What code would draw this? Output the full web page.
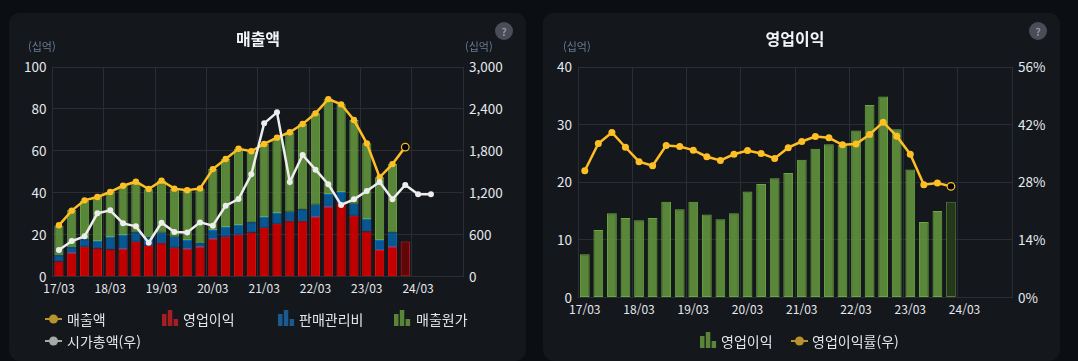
<!DOCTYPE html>
<html lang="ko"><head><meta charset="utf-8">
<script src="https://cdn.jsdelivr.net/npm/chart.js@4"></script>
<style>
html,body{margin:0;padding:0;width:1078px;height:361px;overflow:hidden;background:#0b0e12;font-family:"Noto Sans CJK KR","Noto Sans",sans-serif;}
.panel{position:absolute;top:13px;width:517px;height:348px;background:#14171c;border-radius:11px;overflow:hidden;}
#p1{left:9px}#p2{left:543px}
canvas{position:absolute;left:0;top:0;}
.title{position:absolute;top:13px;font-size:16px;font-weight:700;color:#f2f4f7;line-height:24px;transform:translateX(-50%);white-space:nowrap;}
.unit{position:absolute;top:26px;font-size:11px;line-height:15px;color:#6a7d94;}
.help{position:absolute;left:486px;top:9px;width:18px;height:18px;border-radius:50%;background:#4a4d57;color:#8f929b;font-size:11px;font-weight:700;text-align:center;line-height:18px;}
.lg{position:absolute;font-size:14px;line-height:20px;color:#e2e5ea;white-space:nowrap;}
.ic{position:absolute;}
</style></head><body>
<div class="panel" id="p1"><canvas id="c1" width="517" height="320"></canvas>
<div class="title" style="left:249px">매출액</div><div class="unit" style="left:19px">(십억)</div><div class="unit" style="left:456px">(십억)</div><div class="help">?</div></div>
<div class="panel" id="p2"><canvas id="c2" width="517" height="320"></canvas>
<div class="title" style="left:252px">영업이익</div><div class="unit" style="left:20px">(십억)</div><div class="help">?</div></div>
<script>
const categories=["17/03","17/06","17/09","17/12","18/03","18/06","18/09","18/12","19/03","19/06","19/09","19/12","20/03","20/06","20/09","20/12","21/03","21/06","21/09","21/12","22/03","22/06","22/09","22/12","23/03","23/06","23/09","23/12","24/03","24/06","24/09","24/12"];
const salesValues=[24.5,31.5,36.4,38,40.4,43.4,45.3,41.8,45.8,42,41.2,42.1,51.3,56.1,61,59.8,63.3,66.3,68.9,72.8,77.9,84.7,82.2,74.7,63.6,47.4,53.7,61.8];
const opProfitValues=[7.2,11.3,14.3,13.4,13,13.2,16.7,14.8,15.9,13.8,13.2,14.2,18,19,20,21.1,23.4,25.3,26.4,26.4,28.5,33.2,35,29.1,21.6,12.7,14.2,16.8];
const sgaValues=[3,2.8,3.5,3.6,5.9,6.7,4.4,4,5.1,5.3,4.3,1.7,4.3,4.7,4.6,4.7,5.1,5.1,4.6,5.7,5.8,6.2,5.4,5.7,5.9,4.8,6.9];
const costValues=[14.1,17.7,18.4,21.2,21.5,23.3,24.1,22.9,24.8,22.9,23.5,26.2,29,32.4,36.4,34,34.8,35.9,37.9,40.7,43.6,45.3,41.8,39.9,36.1,29.9,32.6];
const marketCapValues=[381,510,577,906,949,763,720,486,773,639,634,777,730,1016,1111,1465,2194,2352,1355,1741,1531,1322,1026,1107,1226,1355,1107,1312,1179,1179];
const profitBars=[7.5,11.7,14.6,13.8,13.4,13.8,16.6,15.3,16.6,14.4,13.6,14.6,18.4,19.7,20.7,21.6,23.9,25.8,26.6,26.5,29,33.4,34.9,29.2,22.2,13.1,15,16.6];
const marginValues=[30.8,37.4,40.1,36.5,33,32,36.9,36.7,35.8,34.2,33.3,34.8,35.7,35,33.8,36.4,37.9,39.1,38.8,37.1,37.3,39.6,42.6,39.2,34.8,27.4,27.8,27];

const GRID='#2a2d35',TICK='#e6e9ee',PANEL='#14171c',YEL='#fdbf24';
const LAST=27;
const tickFontY={family:'"Noto Sans CJK KR","Noto Sans",sans-serif',size:13.5};
const tickFontX={family:'"Noto Sans CJK KR","Noto Sans",sans-serif',size:12};
const bgPlugin={id:'bg',beforeDraw(c){const x=c.ctx;x.save();x.fillStyle=PANEL;x.fillRect(0,0,c.width,c.height);x.restore();}};
function fit(w){return s=>{s.width=w;};}
function xAxis(h){return{stacked:true,offset:true,
  grid:{offset:true,drawTicks:false,color:c=>c.index%4?'rgba(0,0,0,0)':GRID},
  border:{color:GRID},
  afterFit:s=>{s.height=h;},
  ticks:{autoSkip:false,maxRotation:0,padding:5,color:TICK,font:tickFontX,
    callback(v,i){return i%4?'':categories[i];}}};}
function yAxis(pos,max,step,w,fmt){return{position:pos,min:0,max:max,stacked:pos==='left',
  grid:{display:pos==='left',drawTicks:false,color:GRID},border:{color:GRID},
  afterFit:fit(w),
  ticks:{stepSize:step,padding:6,color:TICK,font:tickFontY,callback:fmt}};}
const barStyle=(fill,line,dimFill,dimLine)=>({
  backgroundColor:c=>c.dataIndex===LAST?dimFill:fill,
  borderColor:c=>c.dataIndex===LAST?dimLine:line,
  borderWidth:1,borderSkipped:false,barPercentage:0.72,categoryPercentage:1,order:5});
const lineStyle=(col,r)=>({type:'line',borderColor:col,backgroundColor:col,borderWidth:2.5,pointRadius:r,pointHoverRadius:r,pointBorderWidth:0,tension:0});
const hollow=r=>({
  pointBackgroundColor:c=>c.dataIndex===LAST?'#000':YEL,
  pointRadius:c=>c.dataIndex===LAST?3.8:r,
  pointBorderWidth:c=>c.dataIndex===LAST?1.2:0,
  pointBorderColor:YEL});

new (Chart)((()=>{const e=document.getElementById('c1');e.getContext('2d',{alpha:false});return e;})(),{
  type:'bar',plugins:[bgPlugin],
  data:{labels:categories,datasets:[
    Object.assign(lineStyle('#ededed',3),{label:'시가총액(우)',data:marketCapValues,yAxisID:'yR',order:0}),
    Object.assign(lineStyle(YEL,3.2),hollow(3.2),{label:'매출액',data:salesValues,yAxisID:'y',order:1}),
    Object.assign({label:'영업이익',data:opProfitValues,yAxisID:'y'},barStyle('rgba(200,0,0,0.97)','#f00a0a','rgba(100,6,8,0.95)','#d8141c')),
    Object.assign({label:'판매관리비',data:sgaValues,yAxisID:'y'},barStyle('rgba(8,90,150,0.97)','#0a6cc0','#333','#333')),
    Object.assign({label:'매출원가',data:costValues,yAxisID:'y'},barStyle('rgba(98,146,62,0.9)','#67a83f','#333','#333'))
  ]},
  options:{responsive:false,animation:false,devicePixelRatio:1,
    layout:{padding:{top:54,left:0,right:0,bottom:0}},
    plugins:{legend:{display:false},title:{display:false},tooltip:{enabled:false}},
    scales:{x:xAxis(56.3),
      y:yAxis('left',100,20,43.5,v=>v),
      yR:yAxis('right',3000,600,63,v=>v.toLocaleString('en-US'))}}
});

new (Chart)((()=>{const e=document.getElementById('c2');e.getContext('2d',{alpha:false});return e;})(),{
  type:'bar',plugins:[bgPlugin],
  data:{labels:categories,datasets:[
    Object.assign(lineStyle(YEL,3.5),hollow(3.5),{label:'영업이익률(우)',data:marginValues,yAxisID:'yR',order:0}),
    Object.assign({label:'영업이익',data:profitBars,yAxisID:'y'},barStyle('rgba(98,146,62,0.9)','#67a83f','rgba(38,58,27,0.95)','#527f34'))
  ]},
  options:{responsive:false,animation:false,devicePixelRatio:1,
    layout:{padding:{top:54,left:0,right:0,bottom:0}},
    plugins:{legend:{display:false},title:{display:false},tooltip:{enabled:false}},
    scales:{x:xAxis(35.5),
      y:yAxis('left',40,10,35,v=>v),
      yR:yAxis('right',56,14,48,v=>v+'%')}}
});

/* legends */
const legendLeft=[['매출액','line','#b8922c',36,303,58],['영업이익','bars','#a51e24',153,303,174],['판매관리비','bars','#1a5a8f',269,303,290],['매출원가','bars','#5a8438',385,303,407],['시가총액(우)','line','#a8a8a8',36,325,58]];
const legendRight=[['영업이익','bars','#5a8438',157,325,178],['영업이익률(우)','line','#b8922c',248,325,269]];
function addLegend(id,items){const p=document.getElementById(id);
  items.forEach(([t,kind,col,ix,y,tx])=>{
    const s=document.createElementNS('http://www.w3.org/2000/svg','svg');
    s.setAttribute('width','17');s.setAttribute('height','16');s.setAttribute('class','ic');
    s.style.left=ix+'px';
    s.style.top=(y-(kind==='bars'?6:5))+'px';
    s.innerHTML=kind==='line'
      ?`<rect x="0" y="7" width="17" height="2" fill="${col}"/><circle cx="8.5" cy="8" r="4.5" fill="${col}"/>`
      :`<rect x="0" y="4" width="4.5" height="12" fill="${col}"/><rect x="5.8" y="0" width="4.5" height="16" fill="${col}"/><rect x="11.6" y="9" width="4.5" height="7" fill="${col}"/>`;
    p.appendChild(s);
    const d=document.createElement('div');d.className='lg';d.textContent=t;d.style.left=tx+'px';d.style.top=(y-7)+'px';p.appendChild(d);
  });}
addLegend('p1',legendLeft);addLegend('p2',legendRight);
</script></body></html>
